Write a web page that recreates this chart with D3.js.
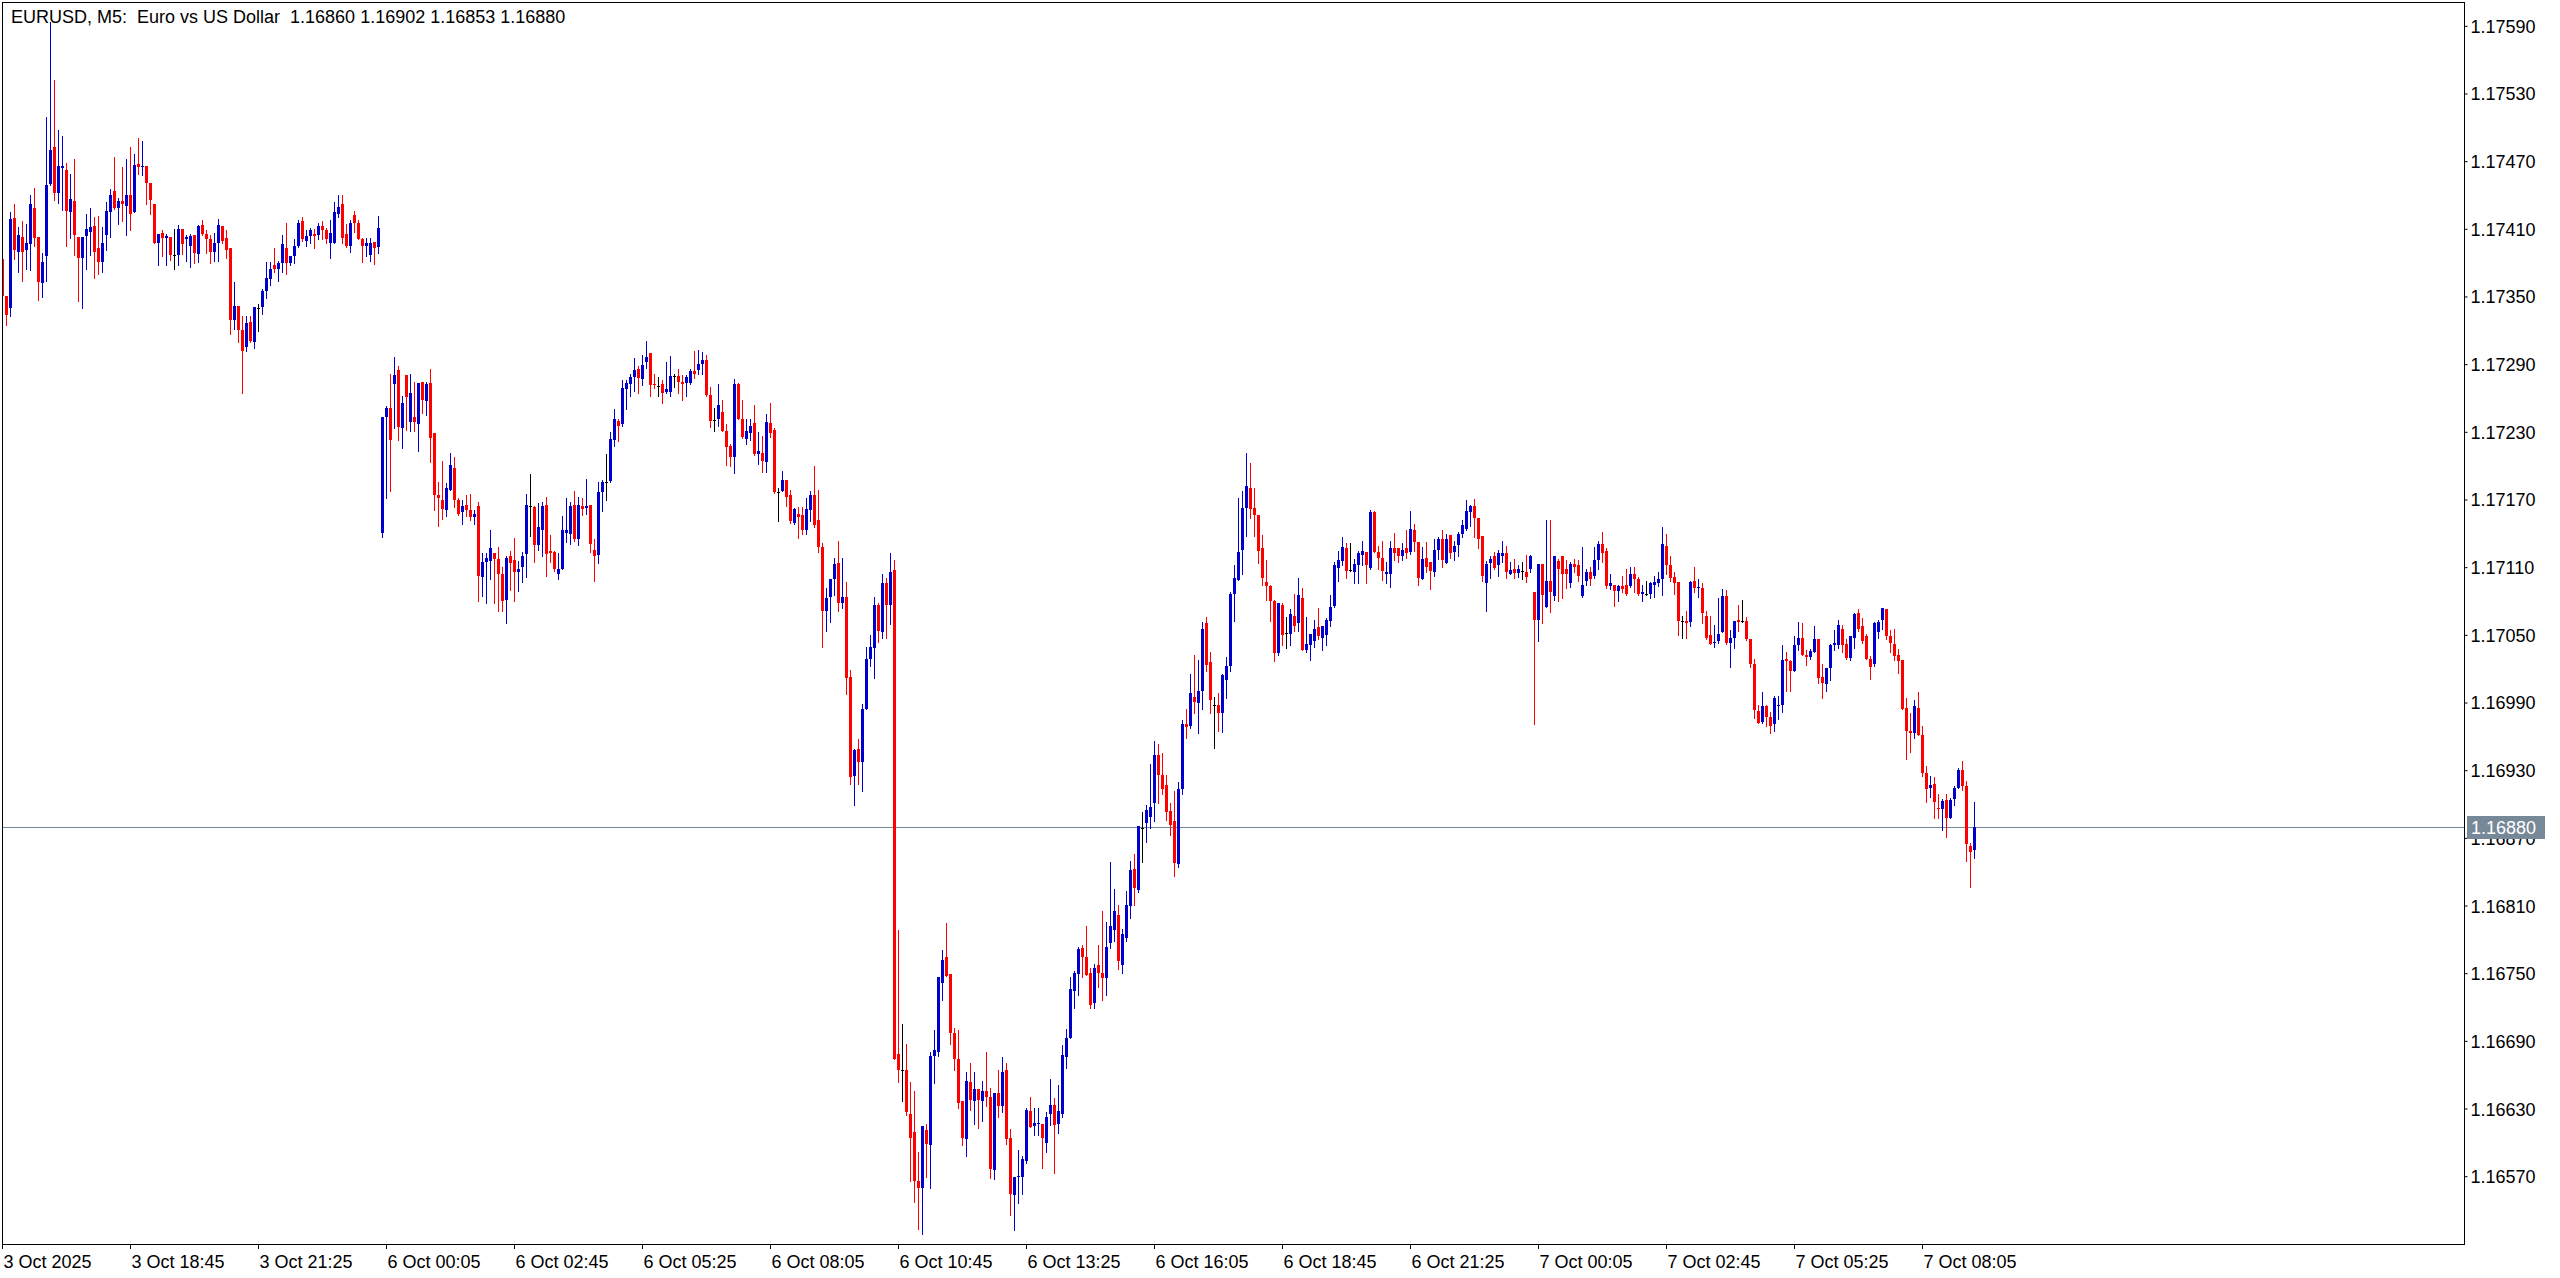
<!DOCTYPE html>
<html><head><meta charset="utf-8">
<script src="https://cdn.jsdelivr.net/npm/d3@7"></script>
<style>html,body{margin:0;padding:0;background:#fff;overflow:hidden}</style>
</head><body>
<svg id="chart" width="2560" height="1278"></svg>
<script>
const chartTitle = "EURUSD, M5:  Euro vs US Dollar  1.16860 1.16902 1.16853 1.16880";
const timeLabels = ["3 Oct 2025","3 Oct 18:45","3 Oct 21:25","6 Oct 00:05","6 Oct 02:45","6 Oct 05:25","6 Oct 08:05","6 Oct 10:45","6 Oct 13:25","6 Oct 16:05","6 Oct 18:45","6 Oct 21:25","7 Oct 00:05","7 Oct 02:45","7 Oct 05:25","7 Oct 08:05"];
const timeTickBars = [0,32,64,96,128,160,192,224,256,288,320,352,384,416,448,480];
const priceTicks = [1.17590,1.17530,1.17470,1.17410,1.17350,1.17290,1.17230,1.17170,1.17110,1.17050,1.16990,1.16930,1.16870,1.16810,1.16750,1.16690,1.16630,1.16570];
const lastPrice = 1.16880;

const opens = [
1.17384,1.17351,1.17340,1.17420,1.17390,1.17403,1.17392,1.17397,1.17429,1.17403,
1.17362,1.17386,1.17450,1.17483,1.17442,1.17464,1.17463,1.17425,1.17435,1.17403,
1.17385,1.17404,1.17408,1.17413,1.17393,1.17381,1.17405,1.17425,1.17444,1.17429,
1.17435,1.17431,1.17440,1.17425,1.17468,1.17465,1.17466,1.17451,1.17432,1.17398,
1.17407,1.17402,1.17403,1.17387,1.17387,1.17410,1.17401,1.17395,1.17405,1.17388,
1.17414,1.17406,1.17401,1.17390,1.17398,1.17413,1.17402,1.17393,1.17330,1.17342,
1.17321,1.17306,1.17328,1.17310,1.17340,1.17341,1.17355,1.17366,1.17378,1.17375,
1.17380,1.17393,1.17380,1.17386,1.17395,1.17417,1.17400,1.17404,1.17406,1.17405,
1.17413,1.17409,1.17398,1.17398,1.17424,1.17432,1.17406,1.17395,1.17423,1.17416,
1.17401,1.17395,1.17387,1.17399,1.17394,1.17141,1.17244,1.17252,1.17273,1.17285,
1.17234,1.17281,1.17239,1.17244,1.17237,1.17275,1.17258,1.17274,1.17229,1.17174,
1.17170,1.17161,1.17179,1.17198,1.17170,1.17159,1.17166,1.17161,1.17155,1.17165,
1.17102,1.17115,1.17116,1.17123,1.17118,1.17104,1.17081,1.17120,1.17117,1.17106,
1.17111,1.17122,1.17165,1.17164,1.17130,1.17143,1.17166,1.17125,1.17124,1.17104,
1.17109,1.17141,1.17140,1.17166,1.17135,1.17165,1.17163,1.17166,1.17126,1.17121,
1.17177,1.17186,1.17187,1.17223,1.17240,1.17237,1.17268,1.17273,1.17279,1.17286,
1.17277,1.17292,1.17300,1.17273,1.17271,1.17273,1.17266,1.17266,1.17280,1.17280,
1.17275,1.17274,1.17274,1.17284,1.17285,1.17291,1.17294,1.17263,1.17241,1.17242,
1.17248,1.17231,1.17218,1.17208,1.17273,1.17242,1.17224,1.17229,1.17238,1.17211,
1.17212,1.17204,1.17238,1.17232,1.17177,1.17178,1.17188,1.17174,1.17150,1.17158,
1.17157,1.17143,1.17161,1.17174,1.17152,1.17128,1.17072,1.17084,1.17100,1.17114,
1.17079,1.17084,1.17013,1.16925,1.16949,1.16938,1.16985,1.17029,1.17039,1.17077,
1.17053,1.17096,1.17077,1.17108,1.16679,1.16665,1.16665,1.16626,1.16610,1.16566,
1.16560,1.16611,1.16598,1.16677,1.16681,1.16742,1.16765,1.16750,1.16697,1.16674,
1.16637,1.16603,1.16654,1.16637,1.16648,1.16637,1.16646,1.16641,1.16576,1.16644,
1.16633,1.16665,1.16604,1.16554,1.16570,1.16570,1.16584,1.16628,1.16615,1.16617,
1.16617,1.16600,1.16626,1.16634,1.16617,1.16626,1.16676,1.16693,1.16735,1.16750,
1.16773,1.16765,1.16751,1.16724,1.16758,1.16751,1.16746,1.16777,1.16789,1.16802,
1.16758,1.16782,1.16810,1.16843,1.16824,1.16879,1.16884,1.16889,1.16901,1.16944,
1.16926,1.16917,1.16894,1.16885,1.16847,1.16914,1.16971,1.16970,1.16995,1.16990,
1.17001,1.17061,1.17026,1.16988,1.16988,1.16981,1.17010,1.17023,1.17087,1.17099,
1.17126,1.17163,1.17181,1.17163,1.17157,1.17127,1.17097,1.17094,1.17080,1.17034,
1.17077,1.17052,1.17051,1.17067,1.17061,1.17083,1.17037,1.17041,1.17045,1.17057,
1.17048,1.17050,1.17063,1.17076,1.17110,1.17116,1.17127,1.17108,1.17106,1.17112,
1.17121,1.17124,1.17110,1.17159,1.17124,1.17119,1.17104,1.17104,1.17127,1.17127,
1.17120,1.17127,1.17124,1.17143,1.17133,1.17100,1.17119,1.17115,1.17106,1.17126,
1.17135,1.17114,1.17139,1.17124,1.17130,1.17140,1.17144,1.17159,1.17165,1.17154,
1.17138,1.17096,1.17114,1.17120,1.17112,1.17120,1.17123,1.17104,1.17109,1.17105,
1.17107,1.17106,1.17109,1.17088,1.17064,1.17113,1.17075,1.17098,1.17085,1.17116,
1.17120,1.17109,1.17096,1.17113,1.17112,1.17085,1.17098,1.17106,1.17103,1.17117,
1.17131,1.17125,1.17094,1.17095,1.17089,1.17094,1.17095,1.17094,1.17104,1.17100,
1.17087,1.17087,1.17087,1.17095,1.17096,1.17100,1.17129,1.17112,1.17102,1.17097,
1.17063,1.17063,1.17062,1.17098,1.17092,1.17092,1.17067,1.17050,1.17043,1.17045,
1.17053,1.17085,1.17043,1.17048,1.17064,1.17063,1.17063,1.17047,1.17025,1.16983,
1.16973,1.16987,1.16978,1.16971,1.16987,1.16988,1.17029,1.17027,1.17018,1.17041,
1.17048,1.17033,1.17031,1.17035,1.17047,1.17013,1.17007,1.17021,1.17041,1.17041,
1.17056,1.17042,1.17030,1.17048,1.17070,1.17058,1.17049,1.17029,1.17025,1.17053,
1.17064,1.17073,1.17049,1.17042,1.17033,1.17028,1.16986,1.16965,1.16963,1.16986,
1.16962,1.16928,1.16915,1.16918,1.16897,1.16896,1.16904,1.16888,1.16905,1.16915,
1.16931,1.16916,1.16863,1.16860];

const highs = [
1.17384,1.17351,1.17425,1.17432,1.17412,1.17417,1.17415,1.17440,1.17447,1.17403,
1.17389,1.17510,1.17594,1.17542,1.17498,1.17493,1.17469,1.17459,1.17472,1.17403,
1.17403,1.17424,1.17429,1.17421,1.17422,1.17412,1.17434,1.17446,1.17474,1.17438,
1.17465,1.17472,1.17483,1.17477,1.17491,1.17488,1.17466,1.17451,1.17432,1.17406,
1.17409,1.17406,1.17403,1.17410,1.17414,1.17410,1.17405,1.17406,1.17405,1.17414,
1.17418,1.17409,1.17405,1.17407,1.17419,1.17413,1.17409,1.17393,1.17363,1.17342,
1.17333,1.17333,1.17333,1.17341,1.17344,1.17357,1.17381,1.17381,1.17393,1.17382,
1.17405,1.17416,1.17386,1.17401,1.17418,1.17421,1.17409,1.17411,1.17410,1.17416,
1.17417,1.17411,1.17418,1.17434,1.17440,1.17440,1.17415,1.17418,1.17426,1.17418,
1.17402,1.17402,1.17402,1.17399,1.17422,1.17244,1.17253,1.17282,1.17297,1.17289,
1.17262,1.17281,1.17282,1.17275,1.17274,1.17275,1.17275,1.17286,1.17229,1.17186,
1.17205,1.17185,1.17212,1.17208,1.17172,1.17170,1.17174,1.17175,1.17161,1.17168,
1.17123,1.17123,1.17143,1.17123,1.17128,1.17111,1.17120,1.17125,1.17136,1.17116,
1.17124,1.17175,1.17193,1.17165,1.17167,1.17168,1.17173,1.17139,1.17125,1.17123,
1.17156,1.17172,1.17168,1.17178,1.17173,1.17172,1.17189,1.17166,1.17135,1.17186,
1.17188,1.17211,1.17230,1.17251,1.17242,1.17276,1.17276,1.17282,1.17296,1.17289,
1.17299,1.17311,1.17300,1.17282,1.17279,1.17276,1.17292,1.17298,1.17282,1.17286,
1.17281,1.17281,1.17286,1.17302,1.17303,1.17301,1.17299,1.17270,1.17252,1.17273,
1.17259,1.17237,1.17220,1.17277,1.17274,1.17259,1.17242,1.17242,1.17254,1.17230,
1.17227,1.17246,1.17256,1.17234,1.17181,1.17196,1.17188,1.17179,1.17163,1.17164,
1.17164,1.17172,1.17178,1.17200,1.17179,1.17132,1.17092,1.17100,1.17119,1.17134,
1.17119,1.17097,1.17019,1.16949,1.16958,1.16989,1.17040,1.17050,1.17084,1.17079,
1.17104,1.17101,1.17123,1.17117,1.16789,1.16705,1.16688,1.16654,1.16646,1.16592,
1.16615,1.16617,1.16681,1.16700,1.16747,1.16771,1.16795,1.16750,1.16702,1.16700,
1.16637,1.16663,1.16671,1.16663,1.16648,1.16655,1.16681,1.16649,1.16644,1.16665,
1.16676,1.16671,1.16612,1.16570,1.16594,1.16588,1.16631,1.16641,1.16631,1.16631,
1.16617,1.16627,1.16657,1.16640,1.16651,1.16687,1.16701,1.16747,1.16752,1.16774,
1.16775,1.16792,1.16755,1.16759,1.16775,1.16806,1.16796,1.16849,1.16825,1.16811,
1.16790,1.16823,1.16850,1.16856,1.16881,1.16893,1.16900,1.16936,1.16956,1.16954,
1.16946,1.16926,1.16901,1.16912,1.16920,1.16975,1.16985,1.17016,1.17033,1.17028,
1.17062,1.17066,1.17035,1.16995,1.16999,1.17016,1.17031,1.17088,1.17112,1.17172,
1.17178,1.17212,1.17203,1.17181,1.17157,1.17139,1.17117,1.17095,1.17081,1.17079,
1.17079,1.17066,1.17073,1.17087,1.17101,1.17092,1.17066,1.17051,1.17064,1.17074,
1.17058,1.17065,1.17086,1.17115,1.17125,1.17137,1.17132,1.17132,1.17118,1.17125,
1.17134,1.17124,1.17161,1.17160,1.17129,1.17134,1.17115,1.17134,1.17141,1.17127,
1.17132,1.17143,1.17160,1.17149,1.17133,1.17128,1.17133,1.17115,1.17135,1.17137,
1.17143,1.17140,1.17139,1.17134,1.17142,1.17152,1.17170,1.17166,1.17171,1.17154,
1.17138,1.17116,1.17120,1.17124,1.17126,1.17134,1.17129,1.17115,1.17118,1.17112,
1.17115,1.17121,1.17121,1.17088,1.17113,1.17113,1.17152,1.17152,1.17120,1.17118,
1.17120,1.17117,1.17115,1.17118,1.17117,1.17128,1.17109,1.17111,1.17128,1.17134,
1.17142,1.17127,1.17104,1.17095,1.17095,1.17103,1.17109,1.17111,1.17111,1.17102,
1.17095,1.17098,1.17097,1.17103,1.17106,1.17146,1.17140,1.17120,1.17106,1.17097,
1.17067,1.17072,1.17098,1.17111,1.17100,1.17096,1.17072,1.17067,1.17059,1.17083,
1.17091,1.17090,1.17055,1.17063,1.17077,1.17081,1.17066,1.17047,1.17029,1.16988,
1.17000,1.16988,1.16982,1.16996,1.16996,1.17041,1.17035,1.17028,1.17049,1.17062,
1.17061,1.17037,1.17038,1.17058,1.17047,1.17025,1.17021,1.17042,1.17055,1.17064,
1.17059,1.17047,1.17049,1.17070,1.17073,1.17065,1.17051,1.17032,1.17062,1.17064,
1.17074,1.17073,1.17055,1.17056,1.17038,1.17028,1.16994,1.16981,1.16993,1.17000,
1.16970,1.16934,1.16925,1.16924,1.16909,1.16905,1.16909,1.16906,1.16916,1.16932,
1.16939,1.16921,1.16866,1.16902];

const lows = [
1.17351,1.17325,1.17333,1.17384,1.17372,1.17364,1.17375,1.17374,1.17395,1.17347,
1.17350,1.17364,1.17449,1.17436,1.17433,1.17427,1.17395,1.17402,1.17387,1.17346,
1.17340,1.17375,1.17387,1.17367,1.17370,1.17372,1.17392,1.17403,1.17428,1.17415,
1.17417,1.17405,1.17409,1.17425,1.17459,1.17458,1.17432,1.17424,1.17398,1.17378,
1.17386,1.17378,1.17383,1.17375,1.17378,1.17388,1.17382,1.17377,1.17380,1.17381,
1.17405,1.17389,1.17380,1.17382,1.17382,1.17398,1.17385,1.17317,1.17322,1.17310,
1.17265,1.17302,1.17310,1.17305,1.17320,1.17335,1.17349,1.17361,1.17372,1.17364,
1.17372,1.17370,1.17378,1.17380,1.17394,1.17400,1.17395,1.17398,1.17393,1.17401,
1.17401,1.17398,1.17385,1.17398,1.17421,1.17398,1.17394,1.17390,1.17408,1.17401,
1.17381,1.17386,1.17382,1.17379,1.17389,1.17137,1.17172,1.17178,1.17234,1.17223,
1.17216,1.17232,1.17231,1.17231,1.17213,1.17247,1.17245,1.17204,1.17161,1.17147,
1.17153,1.17156,1.17179,1.17164,1.17157,1.17149,1.17156,1.17152,1.17149,1.17080,
1.17085,1.17079,1.17100,1.17079,1.17072,1.17072,1.17061,1.17090,1.17080,1.17089,
1.17097,1.17102,1.17138,1.17115,1.17126,1.17120,1.17103,1.17115,1.17107,1.17100,
1.17109,1.17133,1.17131,1.17134,1.17130,1.17157,1.17158,1.17124,1.17098,1.17114,
1.17160,1.17170,1.17186,1.17218,1.17222,1.17236,1.17251,1.17262,1.17267,1.17265,
1.17272,1.17287,1.17262,1.17269,1.17262,1.17256,1.17265,1.17262,1.17270,1.17265,
1.17259,1.17262,1.17273,1.17278,1.17282,1.17282,1.17262,1.17235,1.17231,1.17236,
1.17231,1.17201,1.17200,1.17194,1.17242,1.17225,1.17220,1.17223,1.17210,1.17202,
1.17195,1.17195,1.17226,1.17176,1.17151,1.17178,1.17165,1.17150,1.17149,1.17136,
1.17140,1.17140,1.17151,1.17146,1.17124,1.17040,1.17054,1.17062,1.17086,1.17072,
1.17074,1.16998,1.16918,1.16900,1.16918,1.16912,1.16985,1.17023,1.17012,1.17044,
1.17048,1.17048,1.17060,1.16674,1.16654,1.16637,1.16625,1.16566,1.16548,1.16524,
1.16519,1.16570,1.16560,1.16653,1.16677,1.16727,1.16748,1.16688,1.16665,1.16631,
1.16598,1.16588,1.16629,1.16617,1.16613,1.16619,1.16633,1.16569,1.16568,1.16623,
1.16627,1.16599,1.16536,1.16523,1.16547,1.16555,1.16582,1.16614,1.16607,1.16607,
1.16578,1.16592,1.16616,1.16573,1.16609,1.16623,1.16666,1.16693,1.16720,1.16731,
1.16747,1.16749,1.16720,1.16720,1.16738,1.16727,1.16731,1.16773,1.16779,1.16754,
1.16751,1.16779,1.16799,1.16811,1.16822,1.16849,1.16867,1.16879,1.16885,1.16901,
1.16909,1.16886,1.16873,1.16837,1.16845,1.16909,1.16959,1.16968,1.16981,1.16963,
1.16985,1.17018,1.16981,1.16950,1.16965,1.16964,1.16994,1.17018,1.17063,1.17099,
1.17104,1.17138,1.17154,1.17138,1.17114,1.17095,1.17081,1.17063,1.17027,1.17033,
1.17041,1.17039,1.17041,1.17054,1.17054,1.17037,1.17035,1.17028,1.17040,1.17047,
1.17037,1.17041,1.17058,1.17075,1.17098,1.17112,1.17101,1.17107,1.17096,1.17096,
1.17112,1.17096,1.17109,1.17124,1.17109,1.17099,1.17096,1.17093,1.17117,1.17115,
1.17117,1.17119,1.17122,1.17125,1.17095,1.17100,1.17106,1.17091,1.17103,1.17118,
1.17111,1.17114,1.17119,1.17117,1.17120,1.17137,1.17143,1.17147,1.17137,1.17127,
1.17098,1.17072,1.17101,1.17109,1.17103,1.17115,1.17101,1.17104,1.17101,1.17102,
1.17100,1.17097,1.17106,1.16971,1.17045,1.17061,1.17075,1.17071,1.17081,1.17080,
1.17083,1.17092,1.17093,1.17106,1.17098,1.17084,1.17095,1.17095,1.17101,1.17109,
1.17115,1.17092,1.17091,1.17076,1.17080,1.17088,1.17086,1.17093,1.17088,1.17086,
1.17080,1.17086,1.17083,1.17084,1.17094,1.17086,1.17104,1.17098,1.17087,1.17050,
1.17048,1.17048,1.17058,1.17088,1.17084,1.17061,1.17047,1.17042,1.17040,1.17043,
1.17053,1.17042,1.17022,1.17039,1.17054,1.17062,1.17046,1.17022,1.16977,1.16972,
1.16972,1.16970,1.16963,1.16965,1.16976,1.16982,1.17001,1.17001,1.17018,1.17037,
1.17033,1.17024,1.17029,1.17035,1.17008,1.16994,1.17001,1.17010,1.17037,1.17039,
1.17035,1.17029,1.17028,1.17039,1.17054,1.17043,1.17029,1.17011,1.17023,1.17048,
1.17056,1.17047,1.17035,1.17028,1.17017,1.16985,1.16940,1.16947,1.16959,1.16962,
1.16925,1.16902,1.16907,1.16888,1.16888,1.16877,1.16871,1.16888,1.16900,1.16915,
1.16913,1.16850,1.16827,1.16853];

const closes = [
1.17351,1.17334,1.17419,1.17392,1.17405,1.17390,1.17398,1.17432,1.17402,1.17363,
1.17381,1.17449,1.17480,1.17442,1.17466,1.17466,1.17426,1.17437,1.17405,1.17385,
1.17403,1.17410,1.17412,1.17390,1.17381,1.17398,1.17426,1.17440,1.17429,1.17435,
1.17432,1.17440,1.17424,1.17467,1.17465,1.17466,1.17451,1.17436,1.17398,1.17406,
1.17402,1.17404,1.17387,1.17387,1.17410,1.17397,1.17403,1.17404,1.17389,1.17413,
1.17406,1.17401,1.17390,1.17398,1.17414,1.17400,1.17392,1.17330,1.17342,1.17321,
1.17302,1.17327,1.17311,1.17341,1.17340,1.17355,1.17367,1.17375,1.17375,1.17380,
1.17397,1.17380,1.17386,1.17395,1.17416,1.17401,1.17404,1.17409,1.17404,1.17413,
1.17409,1.17401,1.17407,1.17425,1.17430,1.17402,1.17395,1.17416,1.17416,1.17401,
1.17395,1.17398,1.17398,1.17393,1.17411,1.17244,1.17252,1.17223,1.17281,1.17235,
1.17256,1.17261,1.17265,1.17239,1.17274,1.17259,1.17273,1.17225,1.17174,1.17172,
1.17162,1.17181,1.17201,1.17170,1.17158,1.17165,1.17161,1.17155,1.17158,1.17103,
1.17115,1.17119,1.17127,1.17118,1.17104,1.17080,1.17119,1.17114,1.17106,1.17109,
1.17120,1.17166,1.17165,1.17130,1.17146,1.17165,1.17122,1.17123,1.17109,1.17109,
1.17143,1.17143,1.17165,1.17135,1.17166,1.17162,1.17165,1.17131,1.17120,1.17177,
1.17186,1.17186,1.17224,1.17242,1.17236,1.17269,1.17274,1.17279,1.17285,1.17278,
1.17290,1.17297,1.17272,1.17272,1.17271,1.17265,1.17268,1.17280,1.17280,1.17275,
1.17273,1.17279,1.17284,1.17282,1.17291,1.17294,1.17263,1.17240,1.17241,1.17254,
1.17231,1.17217,1.17208,1.17273,1.17242,1.17226,1.17231,1.17236,1.17211,1.17213,
1.17205,1.17239,1.17229,1.17177,1.17177,1.17188,1.17173,1.17151,1.17162,1.17155,
1.17143,1.17162,1.17174,1.17148,1.17128,1.17072,1.17083,1.17100,1.17113,1.17079,
1.17084,1.17012,1.16924,1.16948,1.16938,1.16985,1.17029,1.17040,1.17077,1.17054,
1.17096,1.17077,1.17106,1.16674,1.16665,1.16665,1.16627,1.16604,1.16566,1.16560,
1.16615,1.16599,1.16677,1.16682,1.16747,1.16762,1.16748,1.16697,1.16674,1.16635,
1.16604,1.16655,1.16638,1.16648,1.16638,1.16646,1.16641,1.16577,1.16644,1.16633,
1.16663,1.16603,1.16555,1.16570,1.16571,1.16586,1.16629,1.16614,1.16618,1.16618,
1.16604,1.16623,1.16634,1.16616,1.16628,1.16678,1.16693,1.16736,1.16751,1.16772,
1.16765,1.16749,1.16722,1.16755,1.16751,1.16746,1.16774,1.16792,1.16806,1.16761,
1.16785,1.16811,1.16842,1.16826,1.16881,1.16879,1.16895,1.16898,1.16944,1.16926,
1.16914,1.16893,1.16882,1.16848,1.16914,1.16971,1.16969,1.16999,1.16991,1.17001,
1.17056,1.17024,1.16993,1.16988,1.16981,1.17015,1.17023,1.17087,1.17101,1.17124,
1.17163,1.17182,1.17162,1.17157,1.17125,1.17101,1.17094,1.17080,1.17034,1.17079,
1.17050,1.17052,1.17069,1.17058,1.17086,1.17037,1.17042,1.17051,1.17056,1.17049,
1.17058,1.17064,1.17075,1.17112,1.17117,1.17128,1.17107,1.17108,1.17113,1.17123,
1.17125,1.17112,1.17159,1.17124,1.17119,1.17107,1.17106,1.17127,1.17123,1.17120,
1.17126,1.17123,1.17144,1.17133,1.17101,1.17118,1.17111,1.17107,1.17126,1.17135,
1.17117,1.17135,1.17123,1.17129,1.17140,1.17148,1.17160,1.17165,1.17154,1.17135,
1.17103,1.17113,1.17118,1.17110,1.17123,1.17123,1.17106,1.17108,1.17105,1.17109,
1.17107,1.17102,1.17120,1.17064,1.17113,1.17086,1.17098,1.17088,1.17120,1.17109,
1.17104,1.17104,1.17113,1.17111,1.17103,1.17095,1.17106,1.17100,1.17117,1.17131,
1.17123,1.17094,1.17096,1.17089,1.17094,1.17091,1.17087,1.17104,1.17100,1.17087,
1.17088,1.17087,1.17096,1.17097,1.17100,1.17131,1.17112,1.17101,1.17096,1.17063,
1.17063,1.17061,1.17097,1.17092,1.17093,1.17070,1.17048,1.17042,1.17044,1.17051,
1.17085,1.17043,1.17048,1.17063,1.17062,1.17063,1.17047,1.17025,1.16984,1.16972,
1.16987,1.16978,1.16970,1.16994,1.16988,1.17028,1.17027,1.17018,1.17041,1.17048,
1.17033,1.17031,1.17036,1.17047,1.17012,1.17008,1.17021,1.17041,1.17043,1.17059,
1.17041,1.17030,1.17049,1.17069,1.17056,1.17045,1.17029,1.17022,1.17061,1.17062,
1.17074,1.17049,1.17043,1.17032,1.17027,1.16985,1.16965,1.16963,1.16987,1.16962,
1.16928,1.16914,1.16917,1.16902,1.16896,1.16903,1.16888,1.16904,1.16915,1.16931,
1.16916,1.16865,1.16858,1.16880];

// ---------- layout ----------
const FONT = "'Liberation Sans', Arial, sans-serif";
const BULL = "#0000cd", BEAR = "#ff0000", DOJI = "#000000", PRICE_LINE = "#778899";
const plot = {left: 2.5, top: 2.5, right: 2464.5, bottom: 1244.5};

const svg = d3.select("#chart");
svg.append("rect").attr("width", 2560).attr("height", 1278).attr("fill", "#fff");

const n = opens.length;
const x = d3.scaleLinear().domain([0, n - 1]).range([2.5, 2.5 + 4 * (n - 1)]);
const y = d3.scaleLinear().domain([1.16570, 1.17590]).range([1176.7, 26.3]);

svg.append("clipPath").attr("id", "plotClip").append("rect")
  .attr("x", 3).attr("y", 3).attr("width", 2461).attr("height", 1241);

const bars = d3.range(n).map(i => ({i, o: opens[i], h: highs[i], l: lows[i], c: closes[i]}));
const colorOf = d => d.c > d.o ? BULL : (d.c < d.o ? BEAR : DOJI);

const gC = svg.append("g").attr("clip-path", "url(#plotClip)");

// current price line
const yLast = Math.round(y(lastPrice)) + 0.5;
gC.append("line").attr("x1", 2).attr("x2", 2464).attr("y1", yLast).attr("y2", yLast)
  .attr("stroke", PRICE_LINE).attr("stroke-width", 1);

// wicks
gC.selectAll("line.wick").data(bars).join("line").attr("class", "wick")
  .attr("x1", d => x(d.i)).attr("x2", d => x(d.i))
  .attr("y1", d => Math.round(y(d.h)))
  .attr("y2", d => Math.round(y(d.l)) + 1)
  .attr("stroke", colorOf).attr("stroke-width", 1);

// bodies
gC.selectAll("rect.body").data(bars).join("rect").attr("class", "body")
  .attr("x", d => x(d.i) - 1.5).attr("width", 3)
  .attr("y", d => Math.round(y(Math.max(d.o, d.c))))
  .attr("height", d => Math.max(1, Math.round(y(Math.min(d.o, d.c))) - Math.round(y(Math.max(d.o, d.c)))))
  .attr("fill", colorOf);

// frame
const frame = svg.append("g").attr("stroke", "#000").attr("stroke-width", 1).attr("fill", "none");
frame.append("rect").attr("x", plot.left).attr("y", plot.top)
  .attr("width", plot.right - plot.left).attr("height", plot.bottom - plot.top);

// price axis
const yAxis = d3.axisRight(y).tickValues(priceTicks).tickSize(3).tickPadding(3)
  .tickFormat(d => d.toFixed(5)).offset(0);
const gy = svg.append("g").attr("transform", `translate(${plot.right},0)`).call(yAxis);
gy.select(".domain").remove();
gy.selectAll("line").attr("stroke", "#000");
gy.selectAll("text").attr("font-family", FONT).attr("font-size", 18).attr("fill", "#000").attr("dy", "0.36em");

// time axis
const xAxis = d3.axisBottom(x).tickValues(timeTickBars).tickSize(4)
  .tickFormat((d, k) => timeLabels[k]).offset(0);
const gx = svg.append("g").attr("transform", `translate(0,${plot.bottom + 0.5})`).call(xAxis);
gx.select(".domain").remove();
gx.selectAll("line").attr("stroke", "#000");
gx.selectAll("text").attr("font-family", FONT).attr("font-size", 18).attr("fill", "#000")
  .attr("text-anchor", "start").attr("x", 1).attr("y", 10).attr("dy", "0.71em");

// last price tag
const tag = svg.append("g");
tag.append("rect").attr("x", 2467).attr("y", Math.round(y(lastPrice)) - 11)
  .attr("width", 78).attr("height", 23).attr("fill", PRICE_LINE);
tag.append("text").attr("x", 2471).attr("y", y(lastPrice)).attr("dy", "0.36em")
  .attr("font-family", FONT).attr("font-size", 18).attr("fill", "#fff")
  .text(lastPrice.toFixed(5));

// title
svg.append("text").attr("x", 11).attr("y", 23)
  .attr("font-family", FONT).attr("font-size", 18).attr("fill", "#000")
  .style("white-space", "pre").text(chartTitle);
</script>
</body></html>
